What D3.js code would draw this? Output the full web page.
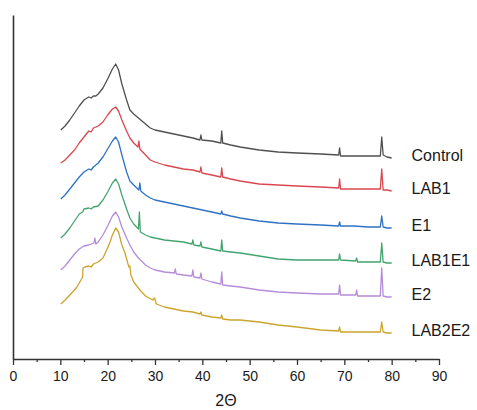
<!DOCTYPE html>
<html>
<head>
<meta charset="utf-8">
<script src="https://cdn.jsdelivr.net/npm/d3@7"></script>
<style>
  body { margin: 0; background: #fff; }
  text { font-family: "Liberation Sans", Arial, sans-serif; fill: #1a1a1a; }
</style>
</head>
<body>
<div id="chart"></div>
<script>
const names = ["Control", "LAB1", "E1", "LAB1E1", "E2", "LAB2E2"];
const colors = ["#505050", "#d9474f", "#3072c4", "#44a470", "#b58cda", "#cca52e"];

// [2θ, intensity (a.u., stacked)]
const control = [[10.1,229],[11,233],[12,239],[13,246],[14,253],[15,259],[16,262],[16.5,261],[17,263],[17.5,263],[18,265],[19,271],[20,280],[21,290],[21.7,295],[22.3,289],[23,275],[24,259],[24.7,249],[25.5,245],[26.5,241],[27.5,237],[29,231],[30,229],[31,228],[32,227],[34,225],[36,223],[38,221],[39.5,219],[39.7,224],[39.9,219],[42,218],[43.9,216],[44.1,228],[44.3,216],[46,214],[48,212],[52,209],[56,207],[60,206],[65,205],[68.8,204],[69,211],[69.2,203],[72,203],[75,203],[77.6,203],[77.9,222],[78.2,204],[79,202],[80,201]];
const lab1 = [[10.1,196],[11,199],[12,204],[13,209],[14,216],[15,222],[16,228],[16.5,227],[17,231],[18,233],[19,237],[20,244],[21,250],[21.7,252],[22.3,248],[23,239],[24,228],[24.7,221],[25.5,216],[26.4,212],[26.6,218],[26.8,210],[28,204],[29,199],[30,197],[32,194],[34,192],[36,190],[38,189],[39.5,187],[39.7,192],[39.9,186],[42,184],[43.9,182],[44.1,191],[44.3,182],[46,180],[48,178],[52,175],[56,174],[60,173],[65,172],[68.8,171],[69,180],[69.2,170],[72,170],[75,170],[77.6,170],[77.9,190],[78.2,169],[79,169],[80,168]];
const e1 = [[10.1,160],[11,164],[12,170],[13,176],[14,182],[15,187],[16,190],[16.5,189],[17,192],[18,196],[19,202],[20,210],[21,218],[21.7,222],[22.3,217],[23,204],[24,187],[24.7,178],[25.5,174],[26.6,169],[26.8,176],[27,168],[28,164],[29,161],[30,159],[32,157],[34,155],[36,153],[38,151],[40,149],[42,147],[43.9,145],[44.1,148],[44.3,145],[46,143],[48,141],[52,138],[56,136],[60,135],[65,134],[68.8,133],[69,137],[69.2,133],[72,133],[75,132],[77.6,132],[77.9,143],[78.2,132],[79,131],[80,131]];
const lab1e1 = [[10.1,121],[11,125],[12,131],[13,138],[14,145],[14.7,147],[15,150],[16,151],[16.5,150],[17,152],[18,153],[19,159],[20,167],[21,176],[21.7,180],[22.3,175],[23,164],[24,150],[24.7,141],[25.5,135],[26.5,130],[26.7,147],[26.9,127],[28,124],[29,122],[30,121],[32,119],[34,118],[36,117],[37.8,115],[38,119],[38.2,114],[39.5,113],[39.7,117],[39.9,112],[42,110],[43.9,108],[44.1,119],[44.3,108],[46,107],[48,106],[52,103],[56,100],[60,99],[65,99],[68.8,99],[69,105],[69.2,99],[72.4,98],[72.6,101],[72.8,97],[75,97],[77.6,97],[77.9,116],[78.2,97],[79,96],[80,96]];
const e2 = [[10.1,89],[11,93],[12,99],[13,105],[14,110],[15,113],[16,114],[17.1,116],[17.3,121],[17.5,115],[18,117],[19,124],[20,133],[21,143],[21.7,147],[22.3,142],[23,132],[24,121],[24.7,114],[25.5,107],[26.5,101],[28,94],[29,91],[30,89],[32,87],[34.1,86],[34.3,90],[34.5,85],[36,84],[37.8,83],[38,89],[38.2,82],[39.5,81],[39.7,86],[39.9,80],[42,77],[43.9,75],[44.1,87],[44.3,74],[46,73],[48,72],[52,69],[56,67],[60,66],[65,65],[68.8,65],[69,74],[69.2,64],[72.4,64],[72.6,69],[72.8,63],[75,63],[77.6,63],[77.9,91],[78.2,63],[79,62],[80,62]];
const lab2e2 = [[10.1,55],[11,59],[12,64],[13,69],[13.5,72],[14.5,80],[14.7,82],[14.8,91],[15.2,92],[16,93],[16.5,92],[17,95],[18,97],[19,101],[19.8,109],[20.5,117],[21,124],[21.7,131],[22.3,127],[23,114],[23.6,107],[24.3,95],[24.5,92],[24.7,93],[24.9,84],[25.5,77],[26.8,69],[28,63],[29.5,59],[29.9,61],[30.3,55],[32,52],[34,50],[36,48],[38,47],[39.5,45],[39.7,47],[39.9,44],[42,42],[43.9,41],[44.1,44],[44.3,40],[46,39],[48,39],[52,37],[56,34],[60,32],[65,29],[68.8,28],[69,32],[69.2,27],[72,27],[75,27],[77.6,27],[77.9,37],[78.2,27],[79,26],[80,26]];

const series = [control, lab1, e1, lab1e1, e2, lab2e2];
const xTicks = [0, 10, 20, 30, 40, 50, 60, 70, 80, 90];

const margin = {top: 15, right: 38, bottom: 51, left: 13},
    width = 477 - margin.left - margin.right,
    height = 410 - margin.top - margin.bottom;

const svg = d3.select("#chart")
    .append("svg")
    .attr("width", 477)
    .attr("height", 410)
    .append("g")
    .attr("transform", `translate(${margin.left},${margin.top})`);

const x = d3.scaleLinear().domain([0, 90]).range([0, width]);
const y = d3.scaleLinear().domain([0, 344]).range([height, 0]);

// minor ticks first, then major axis on top
svg.append("g")
    .attr("transform", `translate(0,${height})`)
    .call(d3.axisBottom(x).tickValues(d3.range(5, 90, 10)).tickSize(3).tickFormat(""))
    .call(g => g.select(".domain").remove())
    .call(g => g.selectAll("line").attr("stroke", "#333").attr("stroke-width", 1.3));

const xAxis = svg.append("g")
    .attr("transform", `translate(0,${height})`)
    .call(d3.axisBottom(x).tickValues(xTicks).tickSize(6).tickSizeOuter(0).tickPadding(6));
xAxis.select(".domain").attr("stroke", "#333").attr("stroke-width", 1.6);
xAxis.selectAll("line").attr("stroke", "#333").attr("stroke-width", 1.3);
xAxis.selectAll("text").style("font-size", "14px").attr("fill", "#1a1a1a");

svg.append("g")
    .call(d3.axisLeft(y).tickValues([]).tickSizeOuter(0))
    .select(".domain").attr("stroke", "#333").attr("stroke-width", 1.6);

svg.append("text")
    .attr("x", x(45))
    .attr("y", height + 47)
    .attr("text-anchor", "middle")
    .style("font-size", "16px")
    .text("2Θ");

const line = d3.line()
    .x(d => x(d[0]))
    .y(d => y(d[1]));

svg.append("g")
    .selectAll("path")
    .data(series)
    .join("path")
    .attr("fill", "none")
    .attr("stroke", (d, i) => colors[i])
    .attr("stroke-width", 1.3)
    .attr("stroke-linejoin", "round")
    .attr("d", line);

svg.append("g")
    .selectAll("text")
    .data(series)
    .join("text")
    .attr("x", x(84.2))
    .attr("y", d => y(d[d.length - 1][1]) - 3)
    .attr("dy", "0.35em")
    .style("font-size", "16px")
    .text((d, i) => names[i]);
</script>
</body>
</html>
